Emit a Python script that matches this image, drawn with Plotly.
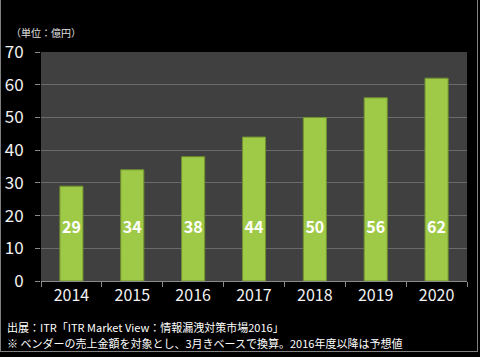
import plotly.graph_objects as go

years = ["2014", "2015", "2016", "2017", "2018", "2019", "2020"]
values = [29, 34, 38, 44, 50, 56, 62]
label_y = 16
y_ticks = [0, 10, 20, 30, 40, 50, 60, 70]
unit_text = "（単位：億円）"
source_text = "出展：ITR「ITR Market View：情報漏洩対策市場2016」"
note_text = "※ ベンダーの売上金額を対象とし、3月きベースで換算。2016年度以降は予想値"

W, H = 480, 357
L, R, T, B = 41, 13, 52, 76
FONT = "Noto Sans CJK JP"

fig = go.Figure()
fig.add_trace(go.Bar(
    x=years, y=values,
    marker=dict(color="#9fca48", line=dict(color="#6f8f2e", width=1)),
    width=0.38,
    hoverinfo="skip",
))
fig.add_trace(go.Scatter(
    x=years, y=[label_y] * len(years),
    mode="text",
    text=[str(v) for v in values],
    textfont=dict(family=FONT, size=16, color="white", weight="bold"),
    hoverinfo="skip",
))

pw = W - L - R
ph = H - T - B

fig.update_layout(
    width=W, height=H,
    margin=dict(l=L, r=R, t=T, b=B, autoexpand=False),
    paper_bgcolor="black",
    plot_bgcolor="#404040",
    showlegend=False,
    font=dict(family=FONT, color="#f2f2f2"),
    xaxis=dict(
        type="category",
        tickson="boundaries",
        ticks="outside", ticklen=5, tickcolor="#8a8a8a",
        showline=True, linecolor="#8a8a8a",
        tickfont=dict(size=16, color="#f2f2f2"),
        showgrid=False,
        automargin=False,
        range=[-0.5, 6.5],
    ),
    yaxis=dict(
        range=[0, 70],
        tickvals=y_ticks,
        ticks="outside", ticklen=5, tickcolor="#8a8a8a",
        ticklabelstandoff=8,
        automargin=False,
        tickfont=dict(size=17, color="#f2f2f2"),
        gridcolor="#6b6b6b", gridwidth=1,
        zeroline=False,
        showline=False,
    ),
    annotations=[
        dict(text=unit_text, xref="paper", yref="paper",
             x=(9 - L) / pw, y=(H - B - 33) / ph, xanchor="left", yanchor="middle",
             showarrow=False, font=dict(size=10, color="#e0e0e0")),
        dict(text=source_text, xref="paper", yref="paper",
             x=(5 - L) / pw, y=(H - B - 327) / ph, xanchor="left", yanchor="middle",
             showarrow=False, font=dict(size=11, color="white")),
        dict(text=note_text, xref="paper", yref="paper",
             x=(5 - L) / pw, y=(H - B - 343) / ph, xanchor="left", yanchor="middle",
             showarrow=False, font=dict(size=11, color="white")),
    ],
    shapes=[
        dict(type="line", xref="paper", yref="paper",
             x0=(0.5 - L) / pw, x1=(0.5 - L) / pw, y0=(H - B - 0) / ph, y1=(H - B - 351.5) / ph,
             line=dict(color="#7f7f7f", width=1)),
        dict(type="line", xref="paper", yref="paper",
             x0=(477.5 - L) / pw, x1=(477.5 - L) / pw, y0=(H - B - 0) / ph, y1=(H - B - 351.5) / ph,
             line=dict(color="#7f7f7f", width=1)),
        dict(type="line", xref="paper", yref="paper",
             x0=(0 - L) / pw, x1=(478 - L) / pw, y0=(H - B - 351.5) / ph, y1=(H - B - 351.5) / ph,
             line=dict(color="#7f7f7f", width=1)),
    ],
)

fig.write_html(
    "out.html",
    config={"displayModeBar": False},
    post_script="document.body.style.margin='0px';document.body.style.overflow='hidden';",
)
